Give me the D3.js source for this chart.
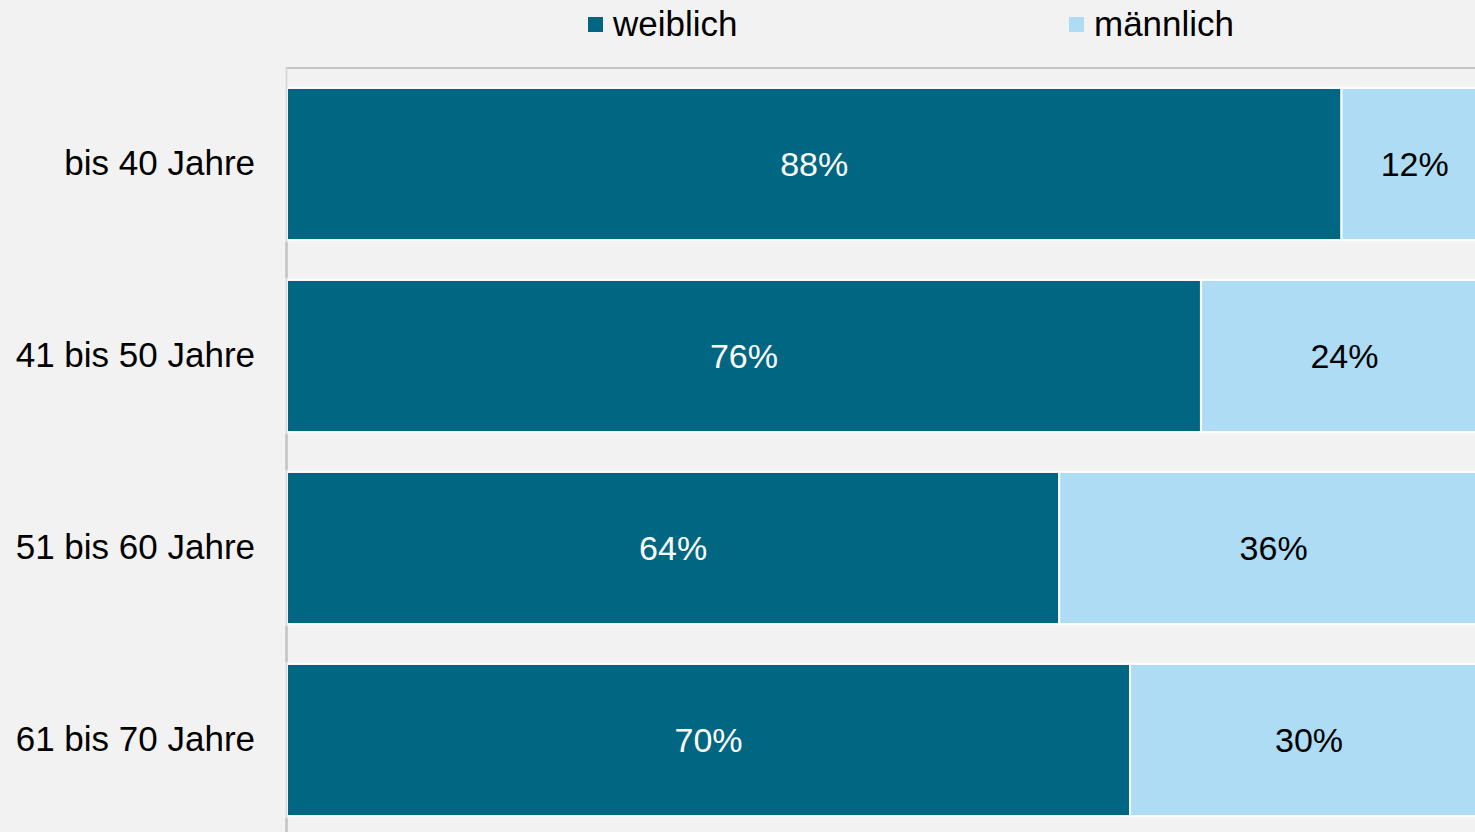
<!DOCTYPE html>
<html>
<head>
<meta charset="utf-8">
<script src="https://cdn.jsdelivr.net/npm/d3@7"></script>
<style>
  html, body { margin: 0; padding: 0; background: #f2f2f2; overflow: hidden; }
  svg { display: block; font-family: "Liberation Sans", Arial, sans-serif; }
</style>
</head>
<body>
<svg id="chart" width="1475" height="832"></svg>
<script>
// Altersgruppen
const categories = ["bis 40 Jahre", "41 bis 50 Jahre", "51 bis 60 Jahre", "61 bis 70 Jahre"];
// Anteil in Prozent
const weiblich = [87.8, 76.1, 64.3, 70.2];
const maennlich = [12.2, 23.9, 35.7, 29.8];
const seriesNames = ["weiblich", "männlich"];
const colors = ["#006682", "#addcf4"];

window.addEventListener("load", main);

function main()
{
    const svg = d3.select("svg#chart");
    const width = +svg.attr("width");
    const height = +svg.attr("height");

    svg.append("rect").attr("width", width).attr("height", height).attr("fill", "#f2f2f2");

    const x = d3.scaleLinear().domain([0, 100]).range([287, 1488]);
    const y = d3.scaleBand().domain(categories).range([68, 836]).paddingInner(0.208).paddingOuter(0.104);

    // gestapelte Daten
    const rows = categories.map((c, i) => ({cat: c, w: weiblich[i], m: maennlich[i]}));
    const stack = d3.stack().keys(["w", "m"])(rows);

    // Balken
    const groups = svg.selectAll("g.series").data(stack).join("g")
        .attr("class", "series")
        .attr("fill", (d, i) => colors[i]);

    groups.selectAll("rect").data(d => d).join("rect")
        .attr("x", d => x(d[0]))
        .attr("y", d => y(d.data.cat))
        .attr("width", d => x(d[1]) - x(d[0]))
        .attr("height", y.bandwidth())
        .attr("stroke", "#ffffff")
        .attr("stroke-width", 2);

    // Beschriftung der Balken
    groups.selectAll("text").data(d => d).join("text")
        .text(d => Math.round(d[1] - d[0]) + "%")
        .attr("x", d => (x(d[0]) + x(d[1])) / 2)
        .attr("y", d => y(d.data.cat) + y.bandwidth() / 2)
        .attr("dy", "0.35em")
        .attr("text-anchor", "middle")
        .attr("font-size", 34)
        .attr("fill", (d, i, nodes) => nodes[i].parentNode.__data__.key === "w" ? "#ffffff" : "#000000");

    // obere Linie
    svg.append("line")
        .attr("x1", 286).attr("x2", width)
        .attr("y1", 68).attr("y2", 68)
        .attr("stroke", "#c4c4c4").attr("stroke-width", 2);

    // Kategorienachse
    svg.append("line")
        .attr("x1", 286.5).attr("x2", 286.5)
        .attr("y1", 67).attr("y2", height)
        .attr("stroke", "#d4d4d4").attr("stroke-width", 1.5);

    const bounds = categories.map(c => y(c) + y.bandwidth() + y.step() * y.paddingInner() / 2);
    svg.selectAll("line.tick").data(bounds).join("line")
        .attr("class", "tick")
        .attr("x1", 286.5).attr("x2", 286.5)
        .attr("y1", d => d - 18).attr("y2", d => d + 18)
        .attr("stroke", "#c4c4c4").attr("stroke-width", 2.5);

    svg.selectAll("text.cat").data(categories).join("text")
        .attr("class", "cat")
        .text(d => d)
        .attr("x", 255)
        .attr("y", d => y(d) + y.bandwidth() / 2 - 1)
        .attr("dy", "0.35em")
        .attr("text-anchor", "end")
        .attr("font-size", 35)
        .attr("fill", "#000000");

    // Legende
    const legendX = [588, 1069];
    const legend = svg.selectAll("g.legend").data(seriesNames).join("g")
        .attr("class", "legend")
        .attr("transform", (d, i) => `translate(${legendX[i]},0)`);
    legend.append("rect")
        .attr("x", 0).attr("y", 17)
        .attr("width", 15).attr("height", 15)
        .attr("fill", (d, i) => colors[i]);
    legend.append("text")
        .text(d => d)
        .attr("x", 25).attr("y", 24)
        .attr("dy", "0.35em")
        .attr("font-size", 35)
        .attr("fill", "#000000");
}
</script>
</body>
</html>
